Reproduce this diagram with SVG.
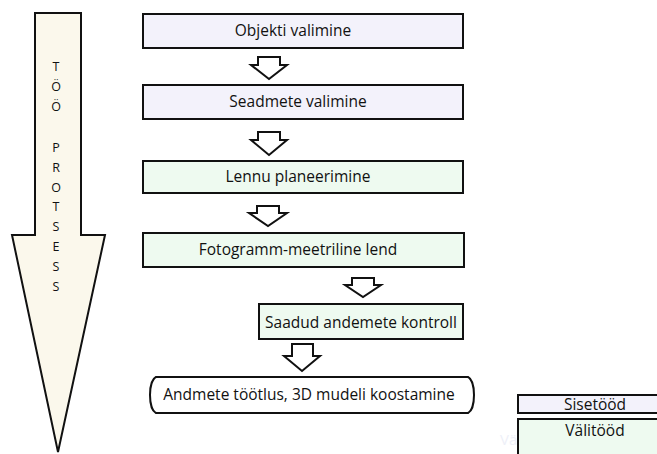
<svg xmlns="http://www.w3.org/2000/svg" width="657" height="454" viewBox="0 0 657 454">
<style>
.box{stroke:#111;stroke-width:2}
.in{fill:#f3f2fb}
.out{fill:#eefaf0}
.t{font-family:"Open Sans","Liberation Sans",Arial,sans-serif;font-size:15.5px;fill:#111;text-anchor:middle}
.v{font-family:"Open Sans","Liberation Sans",Arial,sans-serif;font-size:12.5px;fill:#111;text-anchor:middle}
.ar{fill:#fff;stroke:#111;stroke-width:2;stroke-linejoin:miter}
</style>
<rect width="657" height="454" fill="#fff"/>
<g id="process-arrow">
<path d="M35,13 H81 V235 H105 L58,452 L12,235 H35 Z" fill="#fbf8ec" stroke="#111" stroke-width="2"/>
<text class="v" x="56" y="71">T</text>
<text class="v" x="56" y="91">Ö</text>
<text class="v" x="56" y="111">Ö</text>
<text class="v" x="56" y="152">P</text>
<text class="v" x="56" y="172">R</text>
<text class="v" x="56" y="192">O</text>
<text class="v" x="56" y="211">T</text>
<text class="v" x="56" y="231">S</text>
<text class="v" x="56" y="251">E</text>
<text class="v" x="56" y="271">S</text>
<text class="v" x="56" y="291">S</text>
</g>
<g id="connectors">
<path class="ar" d="M258,57 H280 V65 H287 L269,79 L251,65 H258 Z"/>
<path class="ar" d="M258,132 H280 V140 H287 L269,155 L251,140 H258 Z"/>
<path class="ar" d="M257,206 H279 V213 H287 L268,226 L249,213 H257 Z"/>
<path class="ar" d="M352,278 H374 V285 H381 L363,297 L345,285 H352 Z"/>
<path class="ar" d="M292,344 H313 V356 H320 L302,371 L284,356 H292 Z"/>
</g>
<g id="n1"><rect class="box in" x="143" y="14" width="320" height="34"/><text class="t" x="293" y="36">Objekti valimine</text></g>
<g id="n2"><rect class="box in" x="143" y="85" width="320" height="34"/><text class="t" x="298" y="107">Seadmete valimine</text></g>
<g id="n3"><rect class="box out" x="143" y="161" width="320" height="32"/><text class="t" x="298" y="182">Lennu planeerimine</text></g>
<g id="n4"><rect class="box out" x="143" y="233" width="321" height="34"/><text class="t" x="298" y="255">Fotogramm-meetriline lend</text></g>
<g id="n5"><rect class="box out" x="259" y="304" width="204" height="35"/><text class="t" x="361" y="328">Saadud andemete kontroll</text></g>
<g id="n6"><path class="box" fill="#fff" d="M156,377 H468 C476,381 476,409 468,413 H156 C148,409 148,381 156,377 Z"/><text class="t" x="309" y="400">Andmete töötlus, 3D mudeli koostamine</text></g>
<g id="legend">
<text x="500" y="445" font-family="Open Sans,Liberation Sans,Arial,sans-serif" font-size="15" fill="#eef0f8">Välitööd</text>
<rect class="box in" x="518" y="395" width="145" height="18"/><text class="t" x="595" y="409.5">Sisetööd</text>
<rect class="box out" x="518" y="419" width="145" height="40"/><text class="t" x="595" y="436">Välitööd</text>
</g>
</svg>
